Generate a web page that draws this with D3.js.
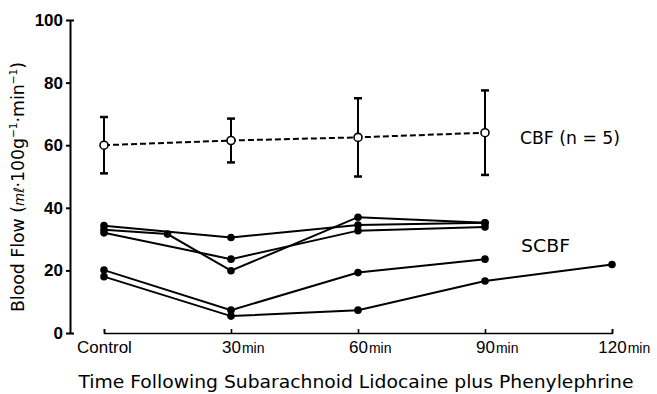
<!DOCTYPE html>
<html>
<head>
<meta charset="utf-8">
<script src="https://cdn.jsdelivr.net/npm/d3@7"></script>
<style>
  body { margin: 0; background: #fff; }
  svg { font-family: "Liberation Sans Narrow", "Arial Narrow", "DejaVu Sans Condensed", "DejaVu Sans", sans-serif; }
</style>
</head>
<body>
<svg id="chart" width="657" height="394"></svg>
<script>
// x ticks (minutes after injection)
const tickTimes = [0, 30, 60, 90, 120];
const tickLabels = ['Control', '30', '60', '90', '120'];
const yTicks = [0, 20, 40, 60, 80, 100];

// CBF mean +/- SD (n=5)
const cbfTimes = [0, 30, 60, 90];
const cbfMean = [60, 61.5, 62.5, 64];
const cbfSD = [9, 7, 12.5, 13.5];

// SCBF, individual animals
const scbf1 = [[0, 34.3], [30, 30.5], [60, 34.5], [90, 35.2]];
const scbf2 = [[0, 33], [15, 31.6], [30, 19.9], [60, 37], [90, 35.2]];
const scbf3 = [[0, 32], [30, 23.6], [60, 32.7], [90, 33.9]];
const scbf4 = [[0, 20.1], [30, 7.3], [60, 19.3], [90, 23.6]];
const scbf5 = [[0, 18], [30, 5.4], [60, 7.3], [90, 16.6], [120, 21.9]];
const scbfAll = [scbf1, scbf2, scbf3, scbf4, scbf5];

const svg = d3.select('#chart');

const x = d3.scaleLinear().domain([0, 120]).range([104, 612]);
const y = d3.scaleLinear().domain([0, 100]).range([333, 20]);

// y axis
const yAxis = svg.append('g')
  .attr('transform', 'translate(70,0)')
  .call(d3.axisLeft(y).tickValues(yTicks).tickSizeInner(4).tickSizeOuter(-4).tickPadding(3));
yAxis.selectAll('path, line').attr('stroke', '#000').attr('stroke-width', 2);
yAxis.selectAll('text')
  .style('font-size', '17px').style('font-weight', 'bold').attr('fill', '#000');

// x axis
const xAxis = svg.append('g')
  .attr('transform', `translate(0,${y(0)})`)
  .call(d3.axisBottom(x).tickValues(tickTimes).tickSizeInner(-4).tickSizeOuter(-4).tickFormat(''));
xAxis.selectAll('path, line').attr('stroke', '#000').attr('stroke-width', 1.6);
xAxis.selectAll('.tick').each(function(d, i) {
  const g = d3.select(this);
  const num = g.append('text')
    .attr('y', 20).attr('text-anchor', 'middle').attr('fill', '#000')
    .style('font-size', '17px').text(tickLabels[i]);
  if (i > 0) {
    const w = num.node().getComputedTextLength();
    g.append('text')
      .attr('x', w / 2 + 1).attr('y', 20).attr('fill', '#000')
      .attr('text-anchor', 'start')
      .style('font-size', '14px').text('min');
  }
});

// CBF dashed line with error bars
const line = d3.line().x(d => x(d[0])).y(d => y(d[1]));
const cbfPts = cbfTimes.map((t, i) => [t, cbfMean[i], cbfSD[i]]);

svg.append('path')
  .datum(cbfPts)
  .attr('d', line)
  .attr('fill', 'none').attr('stroke', '#000').attr('stroke-width', 2)
  .attr('stroke-dasharray', '6,3');

const eb = svg.append('g').selectAll('g').data(cbfPts).enter().append('g');
eb.append('line')
  .attr('x1', d => x(d[0])).attr('x2', d => x(d[0]))
  .attr('y1', d => y(d[1] - d[2])).attr('y2', d => y(d[1] + d[2]))
  .attr('stroke', '#000').attr('stroke-width', 2);
eb.selectAll('.cap').data(d => [[d[0], d[1] - d[2]], [d[0], d[1] + d[2]]]).enter()
  .append('line')
  .attr('x1', d => x(d[0]) - 4).attr('x2', d => x(d[0]) + 4)
  .attr('y1', d => y(d[1])).attr('y2', d => y(d[1]))
  .attr('stroke', '#000').attr('stroke-width', 2.5);
eb.append('circle')
  .attr('cx', d => x(d[0])).attr('cy', d => y(d[1])).attr('r', 4)
  .attr('fill', '#fff').attr('stroke', '#000').attr('stroke-width', 1.6);

// SCBF individual lines
scbfAll.forEach(s => {
  svg.append('path').datum(s).attr('d', line)
    .attr('fill', 'none').attr('stroke', '#000').attr('stroke-width', 2);
  svg.append('g').selectAll('circle').data(s).enter().append('circle')
    .attr('cx', d => x(d[0])).attr('cy', d => y(d[1])).attr('r', 3.8)
    .attr('fill', '#000');
});

// labels
svg.append('text').attr('x', 520).attr('y', 144)
  .style('font-size', '18px').attr('textLength', 100).attr('lengthAdjust', 'spacingAndGlyphs')
  .text('CBF (n = 5)');
svg.append('text').attr('x', 521).attr('y', 252)
  .style('font-size', '18px').attr('textLength', 49).attr('lengthAdjust', 'spacingAndGlyphs')
  .text('SCBF');

svg.append('text')
  .attr('transform', 'translate(24,187) rotate(-90)')
  .attr('text-anchor', 'middle').style('font-size', '18px')
  .attr('textLength', 250).attr('lengthAdjust', 'spacingAndGlyphs')
  .html('Blood Flow (<tspan font-style="italic" font-size="14px">mℓ</tspan>·100g<tspan dy="-7" font-size="11px">−1</tspan><tspan dy="7">·min</tspan><tspan dy="-7" font-size="11px">−1</tspan><tspan dy="7">)</tspan>');

svg.append('text')
  .attr('x', 356).attr('y', 388).attr('text-anchor', 'middle')
  .style('font-size', '18px')
  .attr('textLength', 555).attr('lengthAdjust', 'spacingAndGlyphs')
  .text('Time Following Subarachnoid Lidocaine plus Phenylephrine');
</script>
</body>
</html>
